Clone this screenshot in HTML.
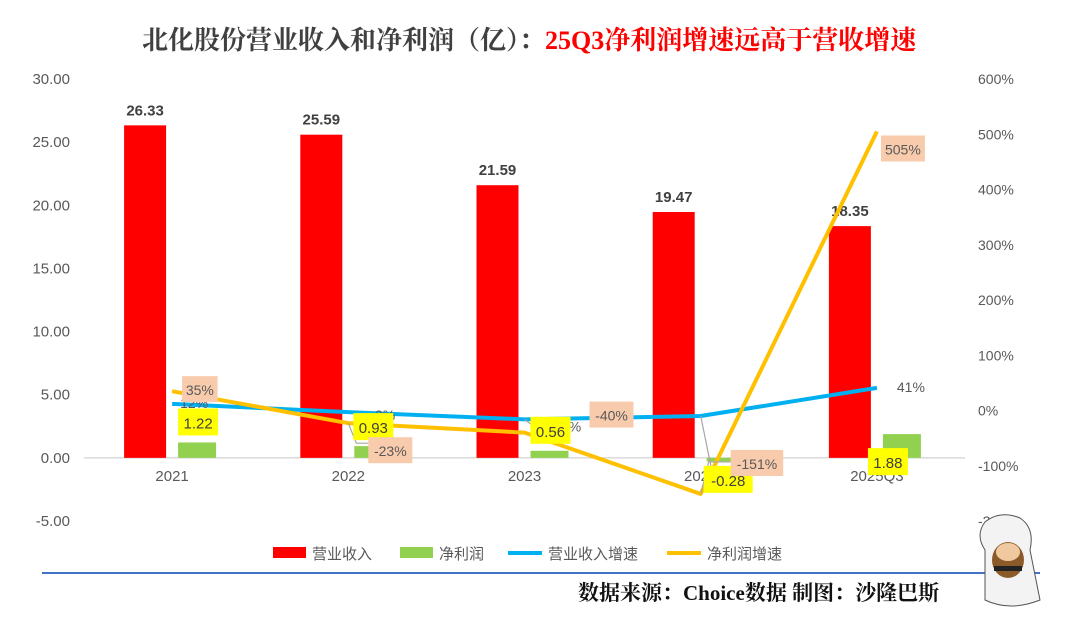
<!DOCTYPE html>
<html><head><meta charset="utf-8">
<style>
html,body{margin:0;padding:0;background:#fff;}
body{width:1080px;height:626px;overflow:hidden;position:relative;font-family:"Liberation Sans","Noto Sans CJK SC",sans-serif;}
</style></head>
<body>
<svg id="chart" width="1080" height="626" xmlns="http://www.w3.org/2000/svg">
<text x="142" y="49" font-family="'Liberation Serif','Noto Serif CJK SC',serif" font-weight="bold" font-size="26" fill="#404040">北化股份营业收入和净利润（亿）：<tspan fill="#ff0000">25Q3净利润增速远高于营收增速</tspan></text>
<g id="plot"></g>
<g font-size="15" fill="#595959">
<rect x="273" y="547" width="33" height="11" fill="#ff0000"/>
<text x="312" y="559">营业收入</text>
<rect x="400" y="547" width="33" height="11" fill="#92d050"/>
<text x="439" y="559">净利润</text>
<line x1="508" y1="553" x2="542" y2="553" stroke="#00b0f0" stroke-width="4"/>
<text x="548" y="559">营业收入增速</text>
<line x1="667" y1="553" x2="701" y2="553" stroke="#ffc000" stroke-width="4"/>
<text x="707" y="559">净利润增速</text>
</g>
<line x1="42" y1="573" x2="1040" y2="573" stroke="#4472c4" stroke-width="2"/>
<text x="578" y="600" font-family="'Liberation Serif','Noto Serif CJK SC',serif" font-weight="bold" font-size="21" fill="#111">数据来源：Choice数据  制图：沙隆巴斯</text>
<g>
<path d="M985 550 Q975 535 985 522 Q1000 510 1020 518 Q1035 528 1030 550 L1040 600 Q1010 612 985 600 Z" fill="#f3f3f3" stroke="#555"/>
<ellipse cx="1008" cy="560" rx="16" ry="18" fill="#8b5a2b"/>
<ellipse cx="1008" cy="552" rx="12" ry="9" fill="#f0c9a0"/>
<rect x="994" y="566" width="28" height="5" fill="#222"/>
</g>
</svg>
<script>
const categories = ["2021","2022","2023","2024","2025Q3"];
const revenue = [26.33, 25.59, 21.59, 19.47, 18.35];
const profit = [1.22, 0.93, 0.56, -0.28, 1.88];
const revenueGrowth = [12, -3, -16, -10, 41];
const profitGrowth = [35, -23, -40, -151, 505];
const leftTicks = [30, 25, 20, 15, 10, 5, 0, -5];
const rightTicks = [600, 500, 400, 300, 200, 100, 0, -100, -200];
const revenueGrowthLabels = ["12%","-3%","-16%","","41%"];
const profitGrowthLabels = ["35%","-23%","-40%","-151%","505%"];

const NS = "http://www.w3.org/2000/svg";
const g = document.getElementById("plot");
const plotL = 84, plotR = 965, plotTop = 79, plotBot = 521;
const yL = v => plotTop + (30 - v) / 35 * (plotBot - plotTop);
const yR = v => plotTop + (600 - v) / 800 * (plotBot - plotTop);
const step = (plotR - plotL) / categories.length;
const xC = i => plotL + step * (i + 0.5);
function el(tag, attrs, text){const e=document.createElementNS(NS,tag);for(const k in attrs)e.setAttribute(k,attrs[k]);if(text!==undefined)e.textContent=text;g.appendChild(e);return e;}

leftTicks.forEach(t=>{
  const e=el("text",{x:70,y:yL(t)+5,"text-anchor":"end","font-size":"15",fill:"#595959"},t.toFixed(2));
  
  
});
rightTicks.forEach(t=>{
  const e=el("text",{x:978,y:yR(t)+5,"font-size":"14",fill:"#595959"},t+"%");
  
  
});
const zl=el("line",{x1:plotL,x2:plotR,y1:yL(0),y2:yL(0),stroke:"#d9d9d9","stroke-width":"1.5"});



categories.forEach((c,i)=>{
  const x=xC(i);
  const r=el("rect",{x:x-48,y:yL(revenue[i]),width:42,height:yL(0)-yL(revenue[i]),fill:"#ff0000"});
  
  
  const pv=profit[i], py=Math.min(yL(pv),yL(0)), ph=Math.abs(yL(pv)-yL(0));
  const p=el("rect",{x:x+6,y:py,width:38,height:ph,fill:"#92d050"});
  
  
  const rl=el("text",{x:x-27,y:yL(revenue[i])-10,"text-anchor":"middle","font-size":"15","font-weight":"bold",fill:"#404040"},revenue[i].toFixed(2));
  
  
  const cl=el("text",{x:x,y:481,"text-anchor":"middle","font-size":"15",fill:"#595959"},c);
  
  
});

function line(vals,color,name){
  const d=vals.map((v,i)=>(i?"L":"M")+xC(i)+" "+yR(v)).join(" ");
  const p=el("path",{d:d,fill:"none",stroke:color,"stroke-width":"4","stroke-linejoin":"round"});
  
  
}
line(revenueGrowth,"#00b0f0","revenue-growth-line");
line(profitGrowth,"#ffc000","profit-growth-line");

// leader lines
const leaders=[[1,-23,20,20],[2,-16,24,6],[3,-151,30,-32]];
leaders.forEach(l=>{
  const x=xC(l[0]), y=yR(l[1]);
  const e=el("polyline",{points:`${x},${y} ${x+8},${y+l[3]} ${x+l[2]},${y+l[3]}`,fill:"none",stroke:"#a6a6a6","stroke-width":"1.2"});
  
  
});
const pl3=el("polyline",{points:`${xC(3)},${yR(revenueGrowth[3])} ${xC(3)+12},${yL(0)+17}`,fill:"none",stroke:"#a6a6a6","stroke-width":"1.2"});



const rgOff=[[8,4],[22,8],[24,12],[0,0],[20,4]];
revenueGrowth.forEach((v,i)=>{
  if(!revenueGrowthLabels[i])return;
  const t=el("text",{x:xC(i)+rgOff[i][0],y:yR(v)+rgOff[i][1],"font-size":"14",fill:"#595959"},revenueGrowthLabels[i]);
  
  
});
// profit value labels (yellow)
const plOff=[[6,-34],[5,-33],[6,-34],[3,8],[-9,14]];
profit.forEach((v,i)=>{
  const s=v.toFixed(2);
  const bx=xC(i)+plOff[i][0], by=(v>=0?yL(v):yL(0))+plOff[i][1];
  const w=s.length*9+4;
  const b=el("rect",{x:bx,y:by,width:w,height:27,fill:"#ffff00"});
  
  
  const t=el("text",{x:bx+w/2,y:by+20,"text-anchor":"middle","font-size":"15",fill:"#404040"},s);
  
  
});
// profit growth labels (peach, on top)
const pgOff=[[10,-15],[20,14],[65,-31],[30,-44],[4,4]];
profitGrowth.forEach((v,i)=>{
  const bx=xC(i)+pgOff[i][0], by=yR(v)+pgOff[i][1];
  const w=profitGrowthLabels[i].length*8.5+10;
  const b=el("rect",{x:bx,y:by,width:w,height:26,fill:"#f8cbad"});
  
  
  const t=el("text",{x:bx+w/2,y:by+19,"text-anchor":"middle","font-size":"14",fill:"#595959"},profitGrowthLabels[i]);
  
  
});
</script>
</body></html>
